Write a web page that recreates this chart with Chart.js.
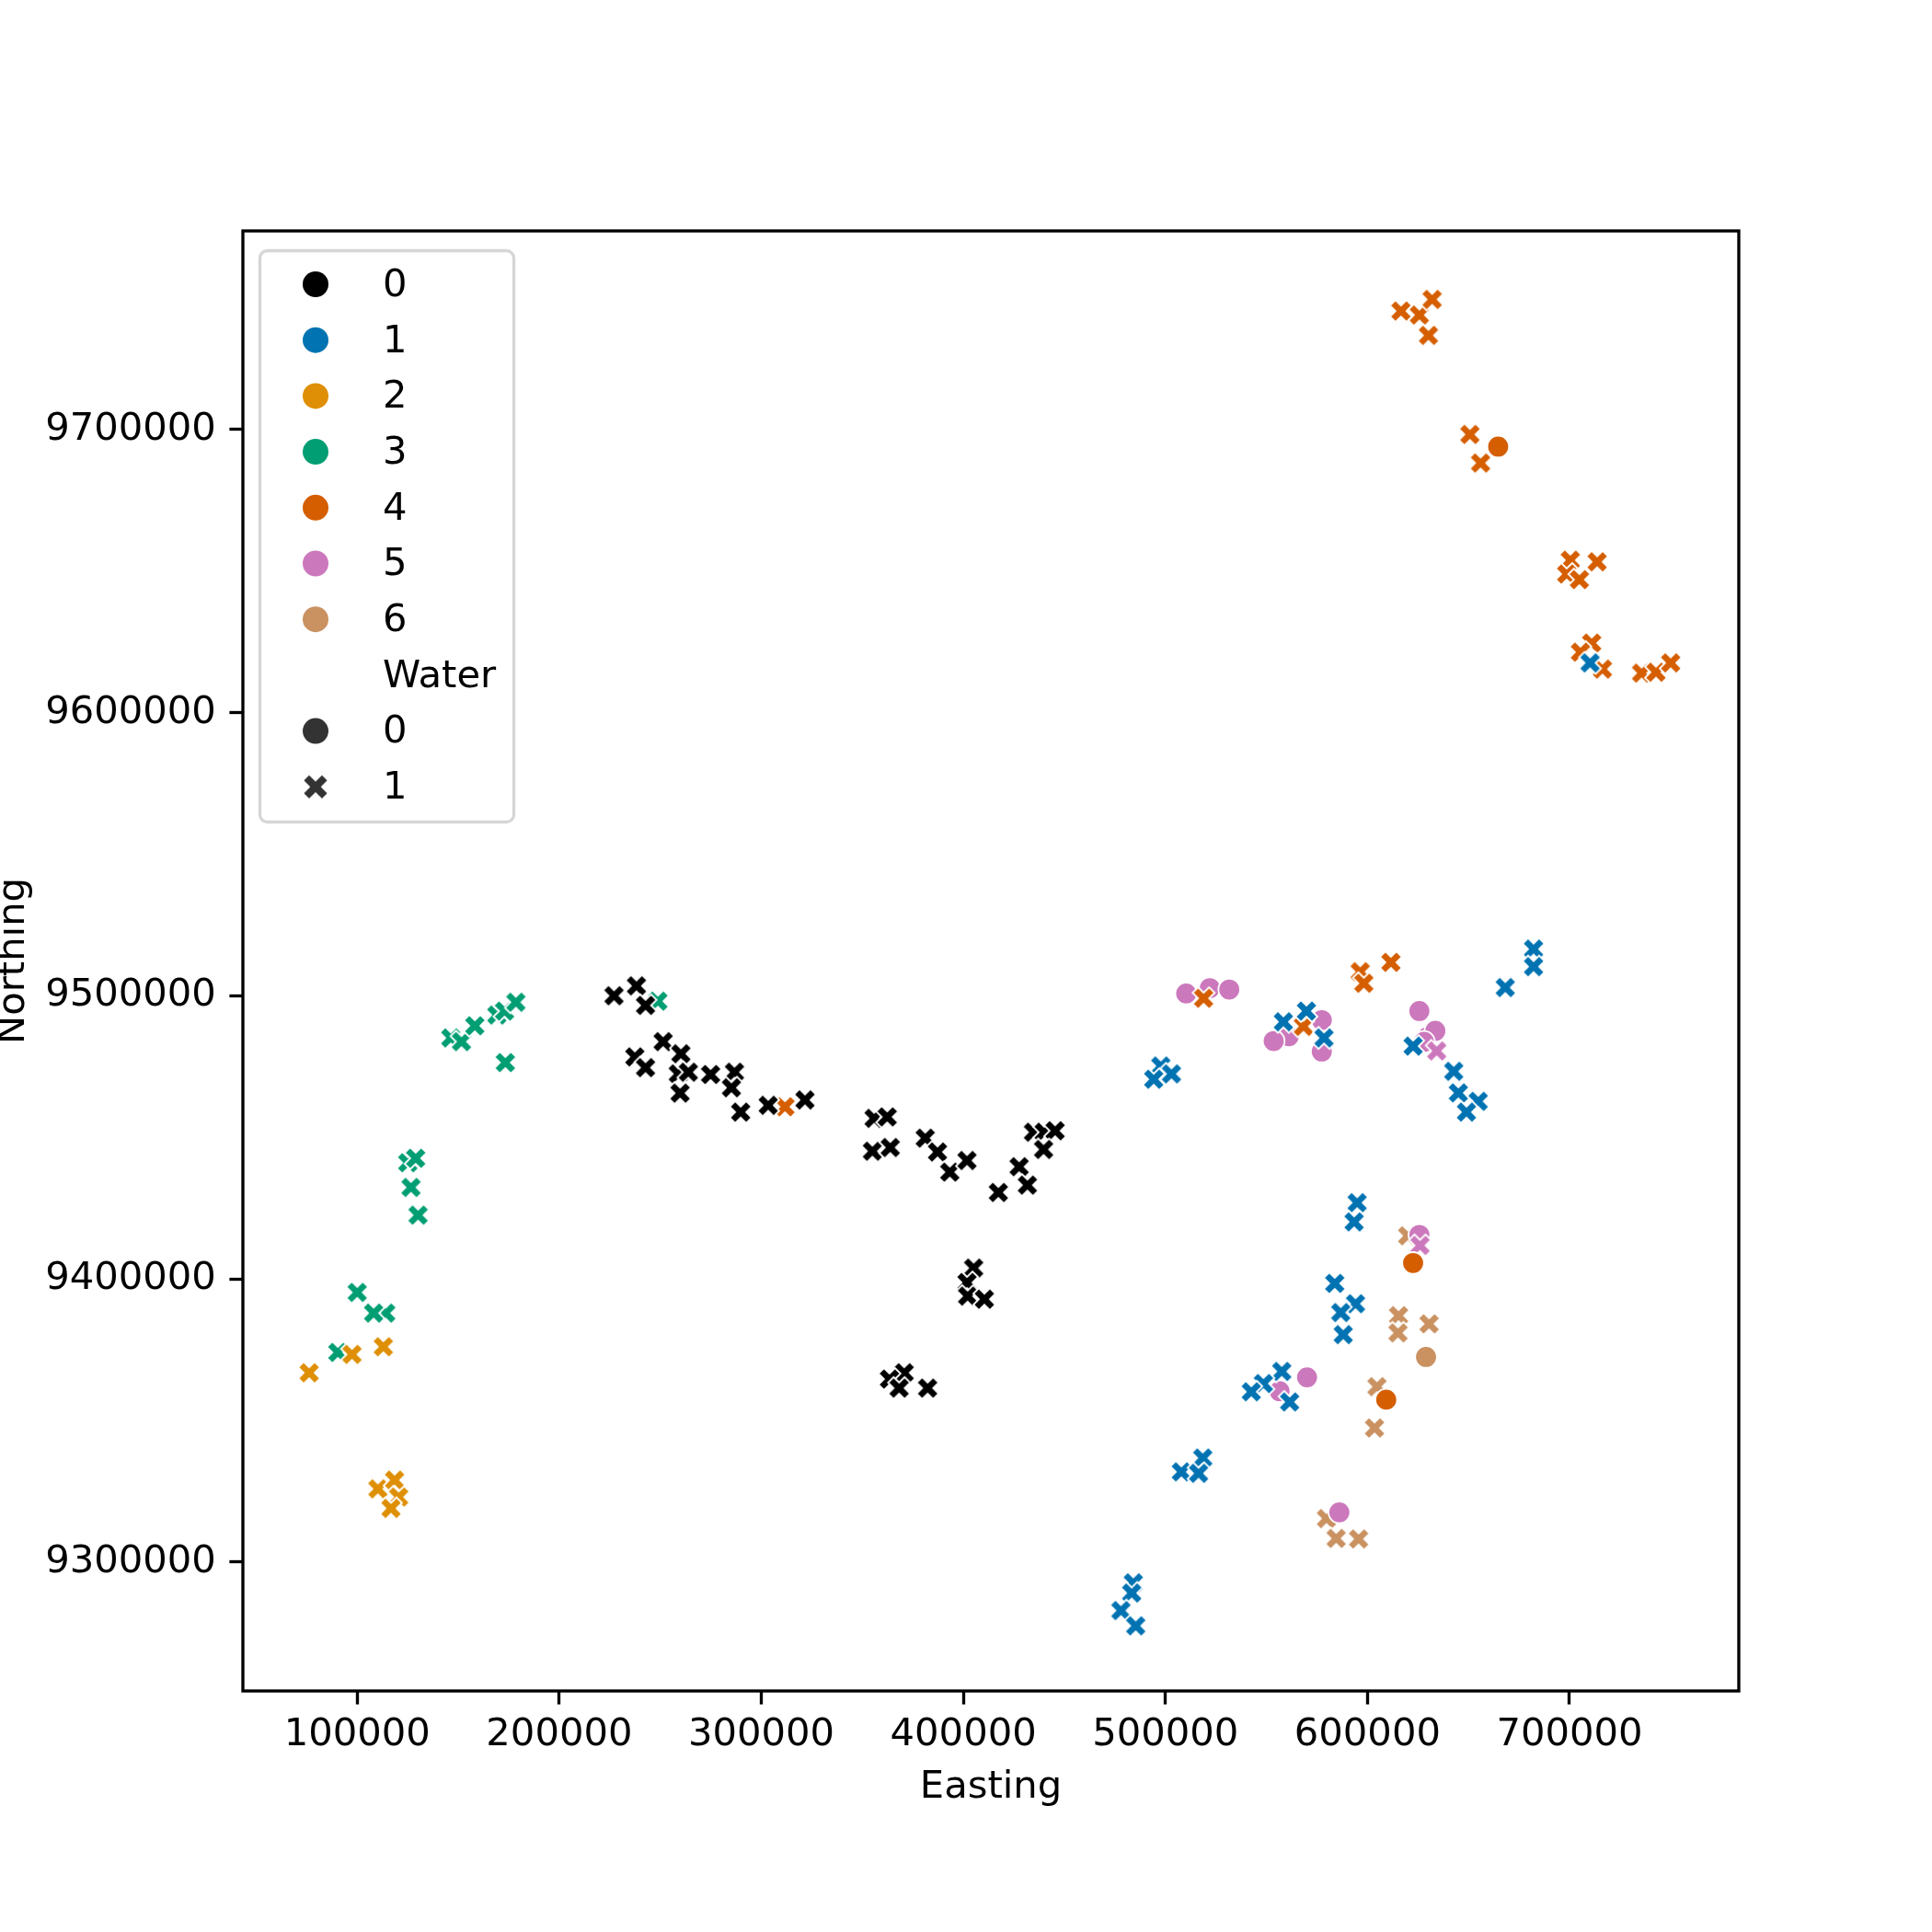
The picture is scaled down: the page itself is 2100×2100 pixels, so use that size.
<!DOCTYPE html>
<html>
<head>
<meta charset="utf-8">
<script src="https://cdn.jsdelivr.net/npm/chart.js@4.4.1/dist/chart.umd.min.js"></script>
<style>
  html, body { margin: 0; padding: 0; background: #fff; }
  #wrap { width: 2100px; height: 2100px; }
</style>
</head>
<body>
<div id="wrap"><canvas id="chart" width="2100" height="2100"></canvas></div>
<script>
// each point: [Easting, Northing, Water]
const cluster0 = [
  [227100,9500000,1],[238200,9503500,1],[242700,9496600,1],[251400,9483800,1],[237400,9478400,1],
  [242700,9474600,1],[260200,9479500,1],[258900,9472400,1],[263900,9473000,1],[259800,9465600,1],
  [274900,9472200,1],[286700,9473000,1],[285200,9467500,1],[289800,9458900,1],[303400,9461300,1],
  [321600,9463200,1],[355800,9456700,1],[362300,9457200,1],[355000,9445100,1],[363800,9446400,1],
  [381100,9449700,1],[387200,9444800,1],[393300,9437700,1],[401800,9441800,1],[417300,9430500,1],
  [427600,9439600,1],[431700,9433100,1],[434700,9451800,1],[440000,9451800,1],[445400,9452300,1],
  [439700,9445700,1],[405100,9403800,1],[401800,9398700,1],[402100,9393900,1],[410400,9392800,1],
  [370700,9366800,1],[363400,9364600,1],[368200,9361400,1],[382300,9361400,1]
];
const cluster1 = [
  [710200,9617600,1],[497700,9475200,1],[494200,9470500,1],[503000,9472400,1],[569800,9494600,1],
  [558400,9490800,1],[578500,9485100,1],[622600,9482200,1],[682200,9516500,1],[682200,9510300,1],
  [668200,9502900,1],[642700,9473300,1],[645000,9465700,1],[654800,9462700,1],[649000,9458900,1],
  [594900,9426900,1],[593400,9420100,1],[583800,9398400,1],[594100,9391200,1],[586800,9388100,1],
  [588000,9380300,1],[557600,9367300,1],[548500,9363000,1],[542500,9360100,1],[561500,9356500,1],
  [518500,9336700,1],[507900,9331800,1],[516400,9331300,1],[484100,9292600,1],[483300,9289000,1],
  [478000,9282800,1],[485300,9277400,1]
];
const cluster2 = [
  [97400,9373300,1],[112900,9376000,1],[76200,9366800,1],[110200,9325800,1],[118500,9328900,1],
  [120500,9322900,1],[116700,9318900,1]
];
const cluster3 = [
  [146300,9485100,1],[151600,9483800,1],[158200,9489400,1],[169100,9493200,1],[172900,9494600,1],
  [178500,9497700,1],[173300,9476400,1],[125000,9441000,1],[128900,9442600,1],[126600,9432300,1],
  [130100,9422500,1],[100000,9395200,1],[114100,9387900,1],[108100,9387900,1],[90400,9374000,1],
  [248800,9498100,1]
];
const cluster4 = [
  [616600,9741900,1],[625700,9740500,1],[632000,9746000,1],[630200,9733300,1],[650700,9698300,1],
  [656000,9688200,1],[700400,9653900,1],[713700,9653300,1],[698600,9649000,1],[704900,9647000,1],
  [711000,9624600,1],[705400,9621400,1],[716300,9615400,1],[735700,9614000,1],[742800,9614300,1],
  [750100,9617600,1],[311700,9460800,1],[518900,9499100,1],[568300,9489200,1],[596400,9508500,1],
  [598200,9504400,1],[611600,9511800,1],
  [664700,9694000,0],[622600,9405600,0],[609300,9357300,0]
];
const cluster5 = [
  [510300,9500800,0],[522000,9502700,0],[531600,9502200,0],[577400,9491400,0],[561100,9485700,0],
  [553600,9484000,0],[577400,9480300,0],[625700,9494600,0],[629800,9485400,0],[633600,9487600,0],
  [628000,9483700,0],[625700,9415500,0],[570100,9365200,0],[556500,9360300,0],[586100,9317500,0],
  [634300,9480500,1],[626000,9411800,1]
];
const cluster6 = [
  [619900,9415200,1],[615400,9387000,1],[615100,9380900,1],[630500,9384100,1],[604700,9361900,1],
  [603500,9347300,1],[579700,9315300,1],[584500,9308300,1],[595600,9308100,1],
  [629000,9372400,0]
];

const clusters = [cluster0, cluster1, cluster2, cluster3, cluster4, cluster5, cluster6];
const clusterLabels = ['0', '1', '2', '3', '4', '5', '6'];
const clusterColors = ['#000000', '#0173b2', '#de8f05', '#029e73', '#d55e00', '#cc78bc', '#ca9161'];
const waterLabels = ['0', '1'];
const xTicks = [100000, 200000, 300000, 400000, 500000, 600000, 700000];
const yTicks = [9300000, 9400000, 9500000, 9600000, 9700000];

const FONT = 'DejaVu Sans';
const FS = 41.7;

// filled "X" marker like matplotlib, with a white edge
function makeCross(color, size) {
  const pad = 4;
  const w = Math.ceil(size + pad * 2);
  const c = document.createElement('canvas');
  c.width = w; c.height = w;
  const g = c.getContext('2d');
  const pts = [[-1,-2],[0,-1],[1,-2],[2,-1],[1,0],[2,1],[1,2],[0,1],[-1,2],[-2,1],[-1,0],[-2,-1]];
  g.translate(w / 2, w / 2);
  g.beginPath();
  pts.forEach((p, i) => {
    const x = p[0] / 4 * size, y = p[1] / 4 * size;
    if (i === 0) g.moveTo(x, y); else g.lineTo(x, y);
  });
  g.closePath();
  g.fillStyle = color;
  g.fill();
  g.lineJoin = 'miter';
  g.lineWidth = 1.8;
  g.strokeStyle = '#ffffff';
  g.stroke();
  return c;
}

const datasets = [];
clusters.forEach((pts, ci) => {
  [1, 0].forEach(w => {
    const sub = pts.filter(p => p[2] === w).map(p => ({x: p[0], y: p[1]}));
    if (!sub.length) return;
    datasets.push({
      label: clusterLabels[ci] + '/' + w,
      data: sub,
      pointStyle: w === 1 ? makeCross(clusterColors[ci], 24) : 'circle',
      pointRadius: 11.8,
      pointBackgroundColor: clusterColors[ci],
      pointBorderColor: '#ffffff',
      pointBorderWidth: 1.8
    });
  });
});

const framePlugin = {
  id: 'frame',
  afterDatasetsDraw(chart) {
    const {ctx, chartArea: a} = chart;
    ctx.save();
    ctx.strokeStyle = '#000';
    ctx.lineWidth = 3.33;
    ctx.strokeRect(a.left, a.top, a.right - a.left, a.bottom - a.top);
    ctx.restore();
  }
};

const legendPlugin = {
  id: 'clusterLegend',
  afterDraw(chart) {
    const {ctx, chartArea: a} = chart;
    ctx.save();
    const bx = a.left + 18.5, by = a.top + 21.5, bw = 276, bh = 621;
    ctx.beginPath();
    ctx.roundRect(bx, by, bw, bh, 8);
    ctx.fillStyle = 'rgba(255,255,255,0.8)';
    ctx.fill();
    ctx.strokeStyle = 'rgba(204,204,204,0.8)';
    ctx.lineWidth = 3.3;
    ctx.stroke();

    const entries = clusterLabels.map((l, i) => ({text: l, color: clusterColors[i], shape: 'circle'}));
    entries.push({text: 'Water', shape: null});
    entries.push({text: waterLabels[0], color: '#333333', shape: 'circle'});
    entries.push({text: waterLabels[1], color: '#333333', shape: 'cross'});

    ctx.font = FS + 'px "' + FONT + '"';
    ctx.textBaseline = 'middle';
    ctx.textAlign = 'left';
    entries.forEach((e, i) => {
      const y = a.top + 58 + i * 60.7;
      const mx = a.left + 79;
      if (e.shape === 'circle') {
        ctx.beginPath();
        ctx.arc(mx, y, 14, 0, Math.PI * 2);
        ctx.fillStyle = e.color;
        ctx.fill();
      } else if (e.shape === 'cross') {
        const img = makeCross(e.color, 28);
        ctx.drawImage(img, mx - img.width / 2, y - img.height / 2);
      }
      ctx.fillStyle = '#000';
      ctx.fillText(e.text, a.left + 152, y + 2);
    });
    ctx.restore();
  }
};

const tickFont = {family: FONT, size: FS};
const gridOpts = {
  display: true,
  drawOnChartArea: false,
  drawTicks: true,
  tickLength: 14.6,
  tickWidth: 3.33,
  tickColor: '#000'
};

new Chart(document.getElementById('chart'), {
  type: 'scatter',
  data: {datasets: datasets},
  options: {
    responsive: false,
    animation: false,
    devicePixelRatio: 1,
    events: [],
    layout: {padding: {top: 251, right: 210, bottom: 0, left: 0}},
    plugins: {legend: {display: false}, tooltip: {enabled: false}},
    scales: {
      x: {
        type: 'linear',
        min: 43400,
        max: 783800,
        afterBuildTicks: s => { s.ticks = xTicks.map(v => ({value: v})); },
        afterFit: s => { s.height = 262; },
        ticks: {font: tickFont, color: '#000', padding: 9, maxRotation: 0, callback: v => String(v)},
        grid: gridOpts,
        border: {display: false},
        title: {display: true, text: 'Easting', color: '#000', font: {family: FONT, size: FS, lineHeight: 1.2}, padding: {top: 0, bottom: 132}}
      },
      y: {
        type: 'linear',
        min: 9254400,
        max: 9770200,
        afterBuildTicks: s => { s.ticks = yTicks.map(v => ({value: v})); },
        afterFit: s => { s.width = 264; },
        ticks: {font: tickFont, color: '#000', padding: 14.6, callback: v => String(v)},
        grid: gridOpts,
        border: {display: false},
        title: {display: true, text: 'Northing', color: '#000', font: {family: FONT, size: FS, lineHeight: 1.2}, padding: {top: -10, bottom: 0}}
      }
    }
  },
  plugins: [framePlugin, legendPlugin]
});
</script>
</body>
</html>
